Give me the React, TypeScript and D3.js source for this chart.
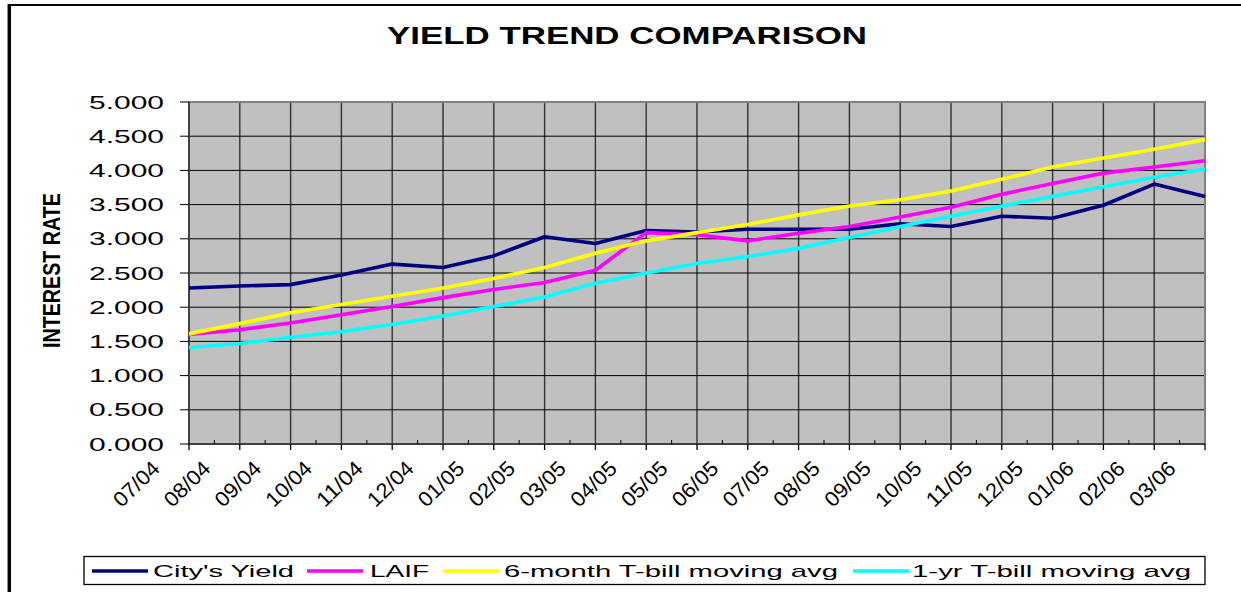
import { useEffect, useRef } from 'react';
import * as d3 from 'd3';

const months = ['07/04', '08/04', '09/04', '10/04', '11/04', '12/04', '01/05', '02/05', '03/05', '04/05', '05/05',
  '06/05', '07/05', '08/05', '09/05', '10/05', '11/05', '12/05', '01/06', '02/06', '03/06'];
const cityYield = [2.28, 2.31, 2.33, 2.47, 2.63, 2.58, 2.75, 3.03, 2.93, 3.12, 3.10, 3.14, 3.14, 3.14, 3.22, 3.18, 3.33, 3.30, 3.49, 3.80, 3.62];
const laif = [1.60, 1.67, 1.77, 1.89, 2.01, 2.14, 2.26, 2.36, 2.54, 3.09, 3.06, 2.97, 3.08, 3.18, 3.32, 3.46, 3.65, 3.81, 3.96, 4.05, 4.14];
const tbill6 = [1.61, 1.76, 1.92, 2.04, 2.16, 2.28, 2.42, 2.58, 2.79, 2.97, 3.09, 3.21, 3.35, 3.48, 3.57, 3.70, 3.87, 4.05, 4.18, 4.31, 4.45];
const tbill1 = [1.41, 1.47, 1.56, 1.64, 1.75, 1.87, 2.01, 2.15, 2.35, 2.50, 2.64, 2.74, 2.86, 3.02, 3.18, 3.33, 3.48, 3.62, 3.76, 3.90, 4.02];
const seriesNames = ["City's Yield", 'LAIF', '6-month T-bill moving avg', '1-yr T-bill moving avg'];
const yTicks = [0, 0.5, 1, 1.5, 2, 2.5, 3, 3.5, 4, 4.5, 5];

const colors = ['#000080', '#ff00ff', '#ffff00', '#00ffff'];
// legend layout: line start, text start, text width
const legendPos = [[92, 153, 141], [307, 370, 59], [443, 504, 334], [853, 912, 279]];

export default function App() {
  const svgRef = useRef<SVGSVGElement>(null);

  useEffect(() => {
    const svg = d3.select(svgRef.current);
    svg.selectAll('*').remove();
    const width = 1241;
    const height = 592;
    const left = 189, right = 1205, top = 102, bottom = 444;
    const font = 'Liberation Sans, Arial, sans-serif';

    svg.append('rect').attr('width', width).attr('height', height).attr('fill', '#fff');

    // outer chart frame
    svg.append('line').attr('x1', 9.3).attr('x2', 9.3).attr('y1', 4).attr('y2', height)
      .attr('stroke', '#000').attr('stroke-width', 3.5);
    svg.append('line').attr('x1', 8).attr('x2', width).attr('y1', 5).attr('y2', 5)
      .attr('stroke', '#000').attr('stroke-width', 2);

    svg.append('text').attr('x', 627).attr('y', 43.5).attr('text-anchor', 'middle')
      .attr('font-family', font).attr('font-weight', 'bold').attr('font-size', 23)
      .attr('textLength', 480).attr('lengthAdjust', 'spacingAndGlyphs')
      .text('YIELD TREND COMPARISON');

    const x = d3.scalePoint().domain(months).range([left, right]);
    const y = d3.scaleLinear().domain([0, 5]).range([bottom, top]);

    svg.append('rect').attr('x', left).attr('y', top).attr('width', right - left).attr('height', bottom - top)
      .attr('fill', '#c0c0c0');

    // vertical gridlines
    svg.append('g').selectAll('line').data(months.slice(1)).enter().append('line')
      .attr('x1', (d) => x(d)).attr('x2', (d) => x(d)).attr('y1', top).attr('y2', bottom)
      .attr('stroke', '#333').attr('stroke-width', 1.4);
    // horizontal gridlines
    svg.append('g').selectAll('line').data(yTicks.slice(1)).enter().append('line')
      .attr('x1', left).attr('x2', right).attr('y1', (d) => y(d)).attr('y2', (d) => y(d))
      .attr('stroke', '#000').attr('stroke-width', 1);

    // plot border
    svg.append('rect').attr('x', left).attr('y', top).attr('width', right - left).attr('height', bottom - top)
      .attr('fill', 'none').attr('stroke', '#808080').attr('stroke-width', 2);

    // y axis
    svg.append('line').attr('x1', left).attr('x2', left).attr('y1', top).attr('y2', bottom)
      .attr('stroke', '#333').attr('stroke-width', 1.6);
    const yg = svg.append('g');
    yTicks.forEach((t) => {
      yg.append('line').attr('x1', left - 9).attr('x2', left).attr('y1', y(t)).attr('y2', y(t))
        .attr('stroke', '#000').attr('stroke-width', 1);
      yg.append('text').attr('x', 164).attr('y', y(t) + 6.6).attr('text-anchor', 'end')
        .attr('font-family', font).attr('font-size', 18.6)
        .attr('textLength', 75).attr('lengthAdjust', 'spacingAndGlyphs')
        .text(d3.format('.3f')(t));
    });

    svg.append('text').attr('transform', 'translate(60,270.5) rotate(-90)').attr('text-anchor', 'middle')
      .attr('font-family', font).attr('font-weight', 'bold').attr('font-size', 24)
      .attr('textLength', 155).attr('lengthAdjust', 'spacingAndGlyphs')
      .text('INTEREST RATE');

    // x axis
    svg.append('line').attr('x1', left).attr('x2', right).attr('y1', bottom).attr('y2', bottom)
      .attr('stroke', '#000').attr('stroke-width', 1.2);
    const step = x.step();
    const xg = svg.append('g');
    months.forEach((m, i) => {
      const px = x(m) as number;
      xg.append('line').attr('x1', px).attr('x2', px).attr('y1', bottom).attr('y2', bottom + 6)
        .attr('stroke', '#000').attr('stroke-width', 1.3);
      if (i < months.length - 1) {
        xg.append('line').attr('x1', px + step / 2).attr('x2', px + step / 2).attr('y1', bottom - 4).attr('y2', bottom)
          .attr('stroke', '#000').attr('stroke-width', 1);
      }
      xg.append('text').attr('transform', `translate(${px - 28},470) rotate(-44)`)
        .attr('text-anchor', 'end').attr('font-family', font).attr('font-size', 21)
        .attr('textLength', 55).attr('lengthAdjust', 'spacingAndGlyphs')
        .text(m);
    });

    // series lines
    const line = d3.line<number>().x((d, i) => x(months[i]) as number).y((d) => y(d));
    [cityYield, laif, tbill6, tbill1].forEach((s, i) => {
      svg.append('path').datum(s).attr('d', line).attr('fill', 'none')
        .attr('stroke', colors[i]).attr('stroke-width', 3.6).attr('stroke-linejoin', 'round');
    });

    // legend
    svg.append('rect').attr('x', 84).attr('y', 556.5).attr('width', 1121).attr('height', 28)
      .attr('fill', '#fff').attr('stroke', '#000').attr('stroke-width', 1.3);
    seriesNames.forEach((name, i) => {
      const [lx, tx, tw] = legendPos[i];
      svg.append('line').attr('x1', lx).attr('x2', lx + 56).attr('y1', 571).attr('y2', 571)
        .attr('stroke', colors[i]).attr('stroke-width', 3.6);
      svg.append('text').attr('x', tx).attr('y', 576.5).attr('font-family', font).attr('font-size', 17)
        .attr('textLength', tw).attr('lengthAdjust', 'spacingAndGlyphs').text(name);
    });
  }, []);

  return (
    <svg ref={svgRef} width="1241" height="592" style={{ position: 'absolute', left: 0, top: 0, display: 'block' }} />
  );
}
